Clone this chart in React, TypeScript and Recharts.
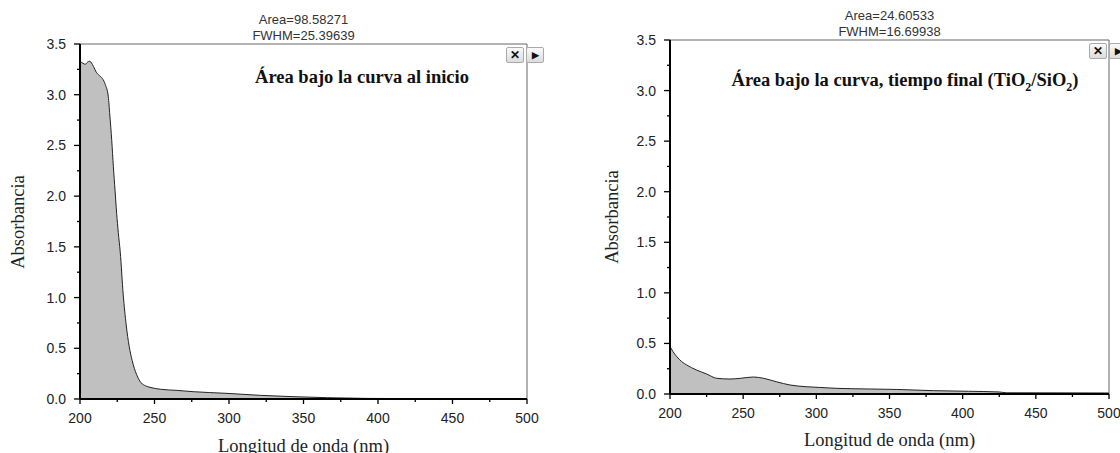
import React from "react";
import {
    AreaChart,
    Area,
    XAxis,
    YAxis,
    ReferenceLine,
} from "recharts";

// Espectro inicial
const nmInicio = [
    200, 202, 203.5, 205, 206.5, 209, 211, 213, 215, 217, 219, 220, 221.3,
    222.4, 223.5, 224.6, 225.7, 227, 229, 231, 233, 235, 238, 241, 244, 247,
    254, 265, 276, 298, 321, 343, 366, 392, 420, 448,
];
const absInicio = [
    3.33, 3.31, 3.3, 3.32, 3.33, 3.28, 3.22, 3.19, 3.16, 3.1, 2.98, 2.8, 2.55,
    2.29, 2.06, 1.83, 1.64, 1.45, 1.03, 0.73, 0.52, 0.38, 0.24, 0.16, 0.13,
    0.115, 0.096, 0.085, 0.072, 0.056, 0.036, 0.023, 0.013, 0.006, 0.004, 0.003,
];

// Espectro final (TiO2/SiO2)
const nmFinal = [
    200, 202, 204.6, 208, 211.4, 218, 225, 232, 241, 248, 257, 264, 273, 282,
    293, 302, 314, 334, 355, 380, 404, 425, 430, 500,
];
const absFinal = [
    0.47, 0.42, 0.37, 0.32, 0.287, 0.238, 0.198, 0.155, 0.148, 0.155, 0.168,
    0.155, 0.12, 0.089, 0.072, 0.065, 0.056, 0.05, 0.045, 0.033, 0.027, 0.02,
    0.012, 0.01,
];

const xTicks = [200, 225, 250, 275, 300, 325, 350, 375, 400, 425, 450, 475, 500];
const yTicks = [0, 0.25, 0.5, 0.75, 1, 1.25, 1.5, 1.75, 2, 2.25, 2.5, 2.75, 3, 3.25, 3.5];

const areaInicio = "Area=98.58271";
const fwhmInicio = "FWHM=25.39639";
const areaFinal = "Area=24.60533";
const fwhmFinal = "FWHM=16.69938";
const xLabel = "Longitud de onda (nm)";
const yLabel = "Absorbancia";

const sans = "'Liberation Sans', Arial, sans-serif";
const serif = "'Liberation Serif', 'Times New Roman', serif";

const XTick = (props: any) => {
    const { x, y, payload } = props;
    const major = payload.value % 50 === 0;
    return (
        <g>
            <line x1={x} y1={y} x2={x} y2={y + (major ? 5 : 3)} stroke="#000" strokeWidth={1.3} />
            {major && (
                <text x={x} y={y + 24} textAnchor="middle" fontFamily={sans} fontSize={14} fill="#222">
                    {payload.value}
                </text>
            )}
        </g>
    );
};

const YTick = (props: any) => {
    const { x, y, payload } = props;
    const major = Math.round(payload.value * 100) % 50 === 0;
    return (
        <g>
            <line x1={x} y1={y} x2={x - (major ? 6 : 3)} y2={y} stroke="#000" strokeWidth={1.3} />
            {major && (
                <text x={x - 14} y={y + 5} textAnchor="end" fontFamily={sans} fontSize={14} fill="#222">
                    {payload.value.toFixed(1)}
                </text>
            )}
        </g>
    );
};

const btn: React.CSSProperties = {
    position: "absolute",
    width: 16,
    height: 14,
    border: "1px solid #aaa",
    borderRadius: 2,
    background: "linear-gradient(#fafafa, #dcdcdc)",
    fontFamily: sans,
    fontSize: 12,
    fontWeight: "bold",
    lineHeight: "14px",
    textAlign: "center",
    color: "#111",
};

type PanelProps = {
    nm: number[];
    abs: number[];
    left: number;
    plot: { x0: number; x1: number; y0: number; y1: number };
    area: string;
    fwhm: string;
    statsY: number;
    title: React.ReactNode;
    titleX: number;
    titleY: number;
    yLabelX: number;
    xLabelY: number;
    btnY: number;
    btnX: number;
};

function Panel(p: PanelProps) {
    const W = 560;
    const H = 453;
    const data = p.nm.map((v, i) => ({ nm: v, abs: p.abs[i] }));
    const cx = (p.plot.x0 + p.plot.x1) / 2;
    const cy = (p.plot.y0 + p.plot.y1) / 2;

    return (
        <div style={{ position: "absolute", left: p.left, top: 0, width: W, height: H }}>
            <AreaChart
                width={W}
                height={H}
                data={data}
                margin={{ top: p.plot.y0, right: W - p.plot.x1, bottom: 0, left: 0 }}
            >
                <XAxis
                    dataKey="nm"
                    type="number"
                    domain={[200, 500]}
                    ticks={xTicks}
                    interval={0}
                    height={H - p.plot.y1}
                    tickSize={0}
                    tickMargin={0}
                    tick={<XTick />}
                    axisLine={{ stroke: "#000", strokeWidth: 2 }}
                />
                <YAxis
                    type="number"
                    domain={[0, 3.5]}
                    ticks={yTicks}
                    interval={0}
                    width={p.plot.x0}
                    tickSize={0}
                    tickMargin={0}
                    tick={<YTick />}
                    axisLine={{ stroke: "#000", strokeWidth: 2 }}
                />
                <ReferenceLine y={3.5} stroke="#666" strokeWidth={1} />
                <ReferenceLine x={500} stroke="#666" strokeWidth={1} />
                <Area
                    type="monotone"
                    dataKey="abs"
                    stroke="#222"
                    strokeWidth={1}
                    fill="#c0c0c0"
                    fillOpacity={1}
                    isAnimationActive={false}
                    dot={false}
                    activeDot={false}
                />
            </AreaChart>

            <div
                style={{
                    position: "absolute",
                    left: cx - 100,
                    width: 200,
                    top: p.statsY,
                    textAlign: "center",
                    fontFamily: sans,
                    fontSize: 13,
                    lineHeight: "16px",
                    color: "#333",
                }}
            >
                <div>{p.area}</div>
                <div>{p.fwhm}</div>
            </div>

            <div
                style={{
                    position: "absolute",
                    left: p.titleX - 250,
                    width: 500,
                    top: p.titleY - 12,
                    textAlign: "center",
                    fontFamily: serif,
                    fontWeight: "bold",
                    fontSize: 18.5,
                    lineHeight: "24px",
                    color: "#111",
                }}
            >
                {p.title}
            </div>

            <div
                style={{
                    position: "absolute",
                    left: p.yLabelX - 100,
                    top: cy - 12,
                    width: 200,
                    textAlign: "center",
                    transform: "rotate(-90deg)",
                    fontFamily: serif,
                    fontSize: 18.5,
                    lineHeight: "24px",
                    color: "#222",
                }}
            >
                {yLabel}
            </div>

            <div
                style={{
                    position: "absolute",
                    left: cx - 150,
                    width: 300,
                    top: p.xLabelY - 12,
                    textAlign: "center",
                    fontFamily: serif,
                    fontSize: 18.5,
                    lineHeight: "24px",
                    color: "#222",
                }}
            >
                {xLabel}
            </div>

            <div style={{ ...btn, left: p.btnX, top: p.btnY }}>✕</div>
            <div style={{ ...btn, left: p.btnX + 20, top: p.btnY, fontSize: 9 }}>▶</div>
        </div>
    );
}

export default function App() {
    return (
        <div
            style={{
                position: "absolute",
                left: 0,
                top: 0,
                width: 1120,
                height: 453,
                overflow: "hidden",
                background: "#fff",
            }}
        >
            <Panel
                nm={nmInicio}
                abs={absInicio}
                left={0}
                plot={{ x0: 80, x1: 527, y0: 44, y1: 399 }}
                area={areaInicio}
                fwhm={fwhmInicio}
                statsY={12}
                title="Área bajo la curva al inicio"
                titleX={362}
                titleY={77}
                yLabelX={18}
                xLabelY={446}
                btnX={506}
                btnY={47}
            />
            <Panel
                nm={nmFinal}
                abs={absFinal}
                left={560}
                plot={{ x0: 110, x1: 549, y0: 40, y1: 394 }}
                area={areaFinal}
                fwhm={fwhmFinal}
                statsY={8}
                title={
                    <span>
                        Área bajo la curva, tiempo final (TiO<sub style={{ fontSize: 12 }}>2</sub>/SiO
                        <sub style={{ fontSize: 12 }}>2</sub>)
                    </span>
                }
                titleX={345}
                titleY={80}
                yLabelX={52}
                xLabelY={440}
                btnX={529}
                btnY={43}
            />
        </div>
    );
}
